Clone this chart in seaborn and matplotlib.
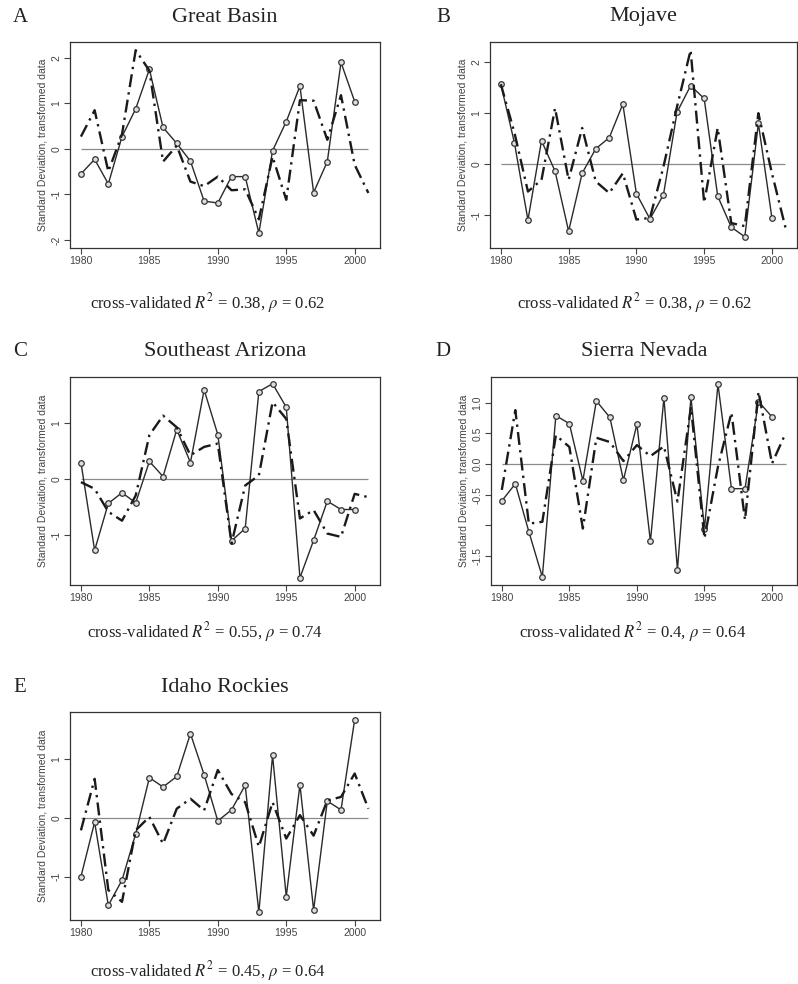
import numpy as np
import pandas as pd
import matplotlib
matplotlib.use("Agg")
import matplotlib.pyplot as plt
import seaborn as sns

# observed (solid, circles) 1980-2000 and predicted (dash-dot) 1980-2001
years_obs = list(range(1980, 2001))
years_pred = list(range(1980, 2002))

gb_obs = [-0.55, -0.23, -0.77, 0.27, 0.88, 1.75, 0.47, 0.12, -0.27, -1.15, -1.19,
          -0.61, -0.61, -1.85, -0.04, 0.60, 1.38, -0.96, -0.28, 1.90, 1.04]
gb_pred = [0.27, 0.85, -0.50, 0.32, 2.17, 1.72, -0.28, 0.07, -0.72, -0.82, -0.61,
           -0.91, -0.89, -1.55, -0.17, -1.12, 1.07, 1.06, 0.20, 1.18, -0.35, -0.97]

mj_obs = [1.57, 0.42, -1.10, 0.46, -0.14, -1.32, -0.18, 0.30, 0.52, 1.18, -0.58,
          -1.08, -0.60, 1.02, 1.54, 1.29, -0.63, -1.24, -1.43, 0.80, -1.06]
mj_pred = [1.57, 0.62, -0.54, -0.31, 1.10, -0.31, 0.71, -0.34, -0.57, -0.18, -1.09,
           -1.06, -0.05, 1.13, 2.24, -0.76, 0.71, -1.16, -1.22, 1.00, -0.18, -1.25]

az_obs = [0.30, -1.27, -0.43, -0.24, -0.42, 0.32, 0.05, 0.89, 0.30, 1.60, 0.80,
          -1.10, -0.88, 1.57, 1.71, 1.29, -1.76, -1.09, -0.39, -0.54, -0.54]
az_pred = [-0.05, -0.17, -0.58, -0.74, -0.29, 0.79, 1.14, 0.93, 0.43, 0.58, 0.64,
           -1.15, -0.11, 0.07, 1.38, 1.08, -0.70, -0.55, -0.97, -1.03, -0.26, -0.32]

sn_obs = [-0.60, -0.32, -1.10, -1.84, 0.79, 0.66, -0.27, 1.03, 0.76, -0.26, 0.65,
          -1.26, 1.08, -1.72, 1.09, -1.05, 1.30, -0.40, -0.40, 1.02, 0.77]
sn_pred = [-0.42, 0.88, -0.97, -0.94, 0.47, 0.28, -1.05, 0.43, 0.36, 0.05, 0.31,
           0.13, 0.29, -0.61, 0.93, -1.21, -0.04, 0.84, -0.91, 1.18, 0.01, 0.50]

id_obs = [-1.00, -0.07, -1.49, -1.06, -0.27, 0.69, 0.53, 0.71, 1.44, 0.74, -0.05,
          0.14, 0.56, -1.61, 1.07, -1.34, 0.57, -1.57, 0.29, 0.14, 1.68]
id_pred = [-0.21, 0.67, -1.23, -1.43, -0.21, 0.02, -0.44, 0.16, 0.33, 0.13, 0.82,
           0.41, 0.27, -0.49, 0.27, -0.35, 0.05, -0.30, 0.30, 0.36, 0.76, 0.16]

regions = ["Great Basin", "Mojave", "Southeast Arizona", "Sierra Nevada", "Idaho Rockies"]
letters = ["A", "B", "C", "D", "E"]
r2_vals = ["0.38", "0.38", "0.55", "0.4", "0.45"]
rho_vals = ["0.62", "0.62", "0.74", "0.64", "0.64"]
observed = [gb_obs, mj_obs, az_obs, sn_obs, id_obs]
predicted = [gb_pred, mj_pred, az_pred, sn_pred, id_pred]
ylims = [(-2.18, 2.35), (-1.65, 2.40), (-1.89, 1.83), (-1.97, 1.42), (-1.74, 1.81)]
yticks = [[-2, -1, 0, 1, 2], [-1, 0, 1, 2], [-1, 0, 1],
          [-1.5, -1.0, -0.5, 0.0, 0.5, 1.0], [-1, 0, 1]]

sns.set_theme(style="ticks")
plt.rcParams["font.family"] = ["Liberation Sans", "DejaVu Sans"]
plt.rcParams["mathtext.fontset"] = "stix"

W, H = 798, 984
fig = plt.figure(figsize=(W / 100, H / 100), dpi=100)
fig.patch.set_facecolor("white")

# axes boxes in pixels: left, top, right, bottom
boxes = [(70, 42, 380, 248), (490, 42, 797, 248),
         (70, 377, 380, 585), (491, 377, 797, 585),
         (70, 712, 380, 920)]
caption_x = [207, 634, 205, 633, 208]
caption_y = [303, 303, 632, 632, 971]

for i in range(5):
    l, t, r, b = boxes[i]
    ax = fig.add_axes([l / W, 1 - b / H, (r - l) / W, (b - t) / H])
    df_obs = pd.DataFrame({"year": years_obs, "value": observed[i]})
    df_pred = pd.DataFrame({"year": years_pred, "value": predicted[i]})

    ax.hlines(0, 1980, 2001, color="#8a8a8a", lw=0.9, zorder=1)
    sns.lineplot(data=df_obs, x="year", y="value", ax=ax, color="#2a2a2a", lw=1.0,
                 marker="o", markersize=4, markerfacecolor="#dddddd",
                 markeredgecolor="#333333", markeredgewidth=0.9, zorder=3)
    sns.lineplot(data=df_pred, x="year", y="value", ax=ax, color="#1a1a1a", lw=1.7,
                 linestyle=(0, (5.5, 2.2, 1, 2.2)), zorder=4)

    ax.set_xlim(1979.2, 2001.85)
    ax.set_ylim(*ylims[i])
    ax.set_xticks([1980, 1985, 1990, 1995, 2000])
    ax.set_xticklabels(["1980", "1985", "1990", "1995", "2000"], fontsize=7.5, color="#444444")
    ax.set_yticks(yticks[i])
    if i == 3:
        ylabels = ["-1.5", "", "-0.5", "0.0", "0.5", "1.0"]
    else:
        ylabels = [str(v) for v in yticks[i]]
    ax.set_yticklabels(ylabels, fontsize=7.5, color="#444444", rotation=90, va="center")
    ax.tick_params(axis="both", direction="out", length=4, width=0.8, color="#444444", pad=2)
    for s in ax.spines.values():
        s.set_visible(True)
        s.set_color("#333333")
        s.set_linewidth(0.9)
    ax.set_xlabel("")
    ax.set_ylabel("Standard Deviation, transformed data", fontsize=7.5, color="#444444", labelpad=3)
    ax.set_facecolor("white")

    # title, panel letter and caption
    fig.text((l + r) / 2 / W, 1 - (t - 25) / H, regions[i], ha="center", va="center",
             fontsize=16, family="Liberation Serif", color="#222222")
    fig.text((20 if l < 400 else 443) / W, 1 - (t - 25) / H, letters[i], ha="center", va="center",
             fontsize=15, family="Liberation Serif", color="#222222")
    caption = "cross-validated $R^2$ = " + r2_vals[i] + ", $\\rho$ = " + rho_vals[i]
    fig.text(caption_x[i] / W, 1 - caption_y[i] / H, caption, ha="center", va="center",
             fontsize=12, family="Liberation Serif", color="#222222")

fig.savefig("out.png", dpi=100, facecolor="white")
